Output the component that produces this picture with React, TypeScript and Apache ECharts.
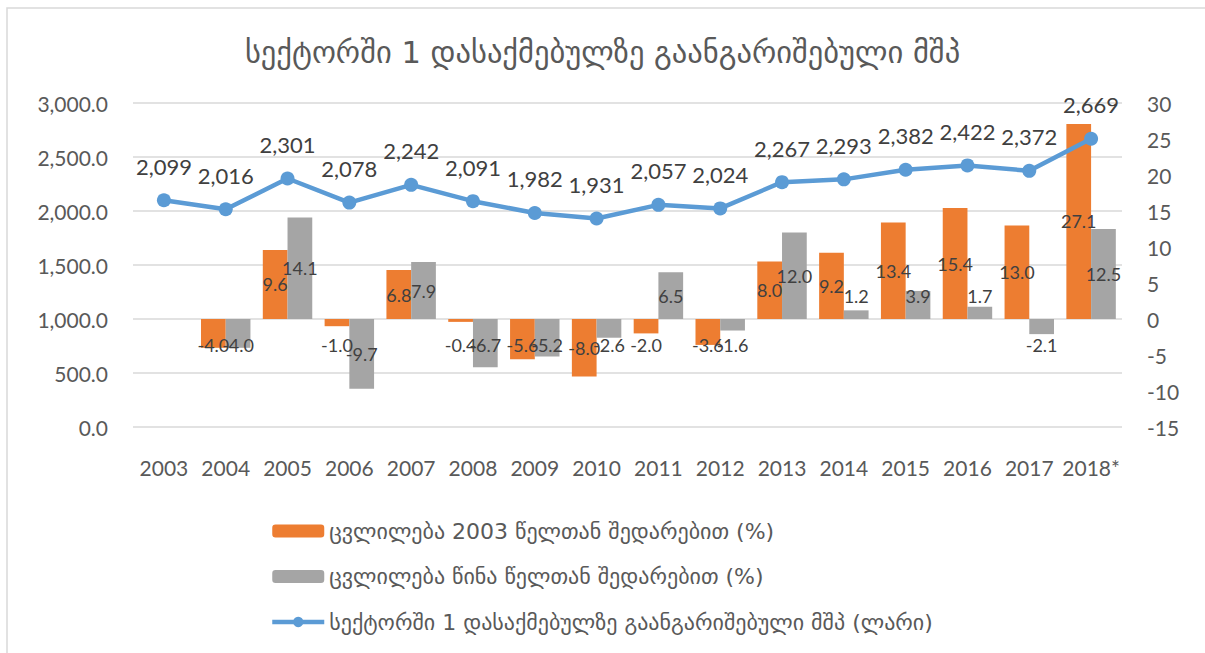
import React, { useEffect, useRef } from 'react';
import * as echarts from 'echarts';

const years = ['2003', '2004', '2005', '2006', '2007', '2008', '2009', '2010', '2011', '2012', '2013', '2014', '2015', '2016', '2017', '2018*'];
const gdpPerEmployed = [2099, 2016, 2301, 2078, 2242, 2091, 1982, 1931, 2057, 2024, 2267, 2293, 2382, 2422, 2372, 2669];
const changeVs2003: (number | null)[] = [null, -4.0, 9.6, -1.0, 6.8, -0.4, -5.6, -8.0, -2.0, -3.6, 8.0, 9.2, 13.4, 15.4, 13.0, 27.1];
const changeVsPrev: (number | null)[] = [null, -4.0, 14.1, -9.7, 7.9, -6.7, -5.2, -2.6, 6.5, -1.6, 12.0, 1.2, 3.9, 1.7, -2.1, 12.5];

const titleText = 'სექტორში 1 დასაქმებულზე გაანგარიშებული მშპ';
const nameVs2003 = 'ცვლილება 2003 წელთან შედარებით (%)';
const nameVsPrev = 'ცვლილება წინა წელთან შედარებით (%)';
const nameGdp = 'სექტორში 1 დასაქმებულზე გაანგარიშებული მშპ (ლარი)';

const FONT = "Lato, 'DejaVu Sans', sans-serif";
const GEO_FONT = "'DejaVu Sans', sans-serif";

function barData(vals: (number | null)[]) {
  return vals.map((v) => {
    if (v == null) return '-';
    const small = v >= 0 ? v < 6.4 : v > -7.5;
    const label = small
      ? { position: v >= 0 ? 'insideBottom' : 'insideTop', distance: v >= 0 ? 14 : 17 }
      : { position: 'inside' };
    return { value: v, label };
  });
}

export default function App() {
  const ref = useRef<HTMLDivElement>(null);
  useEffect(() => {
    if (!ref.current) return;
    const chart = echarts.init(ref.current, null, { renderer: 'svg' });
    const barLabel = {
      show: true,
      color: '#404040',
      fontSize: 18,
      fontFamily: FONT,
      formatter: (p: any) => Number(p.value).toFixed(1),
    };
    chart.setOption({
      animation: false,
      backgroundColor: '#ffffff',
      title: {
        text: titleText,
        left: 'center',
        top: 32,
        textStyle: { fontFamily: GEO_FONT, fontSize: 30.5, fontWeight: 'normal', color: '#595959' },
      },
      graphic: [
        {
          type: 'rect',
          shape: { x: 7, y: 8, width: 1400, height: 800 },
          style: { fill: 'none', stroke: '#D9D9D9', lineWidth: 1.5 },
          silent: true,
        },
      ],
      legend: {
        orient: 'vertical',
        left: 265,
        top: 515,
        itemWidth: 52,
        itemHeight: 13,
        itemGap: 23.5,
        data: [
          { name: nameVs2003 },
          { name: nameVsPrev },
          { name: nameGdp, lineStyle: { width: 4.5, color: '#5B9BD5' } },
        ],
        textStyle: { fontFamily: GEO_FONT, fontSize: 22, color: '#595959', lineHeight: 22 },
      },
      grid: { left: 133, right: 83, top: 103, bottom: 226, containLabel: false },
      xAxis: {
        type: 'category',
        data: years,
        axisLine: { show: false },
        axisTick: { show: false },
        axisLabel: { color: '#595959', fontSize: 21, fontFamily: FONT, margin: 30, interval: 0 },
      },
      yAxis: [
        {
          type: 'value',
          min: 0,
          max: 3000,
          interval: 500,
          position: 'left',
          axisLine: { show: false },
          axisTick: { show: false },
          splitLine: { lineStyle: { color: '#D9D9D9', width: 1.5 } },
          axisLabel: {
            color: '#595959',
            fontSize: 21,
            fontFamily: FONT,
            margin: 25,
            formatter: (v: number) => v.toLocaleString('en-US', { minimumFractionDigits: 1, maximumFractionDigits: 1 }),
          },
        },
        {
          type: 'value',
          min: -15,
          max: 30,
          interval: 5,
          position: 'right',
          axisLine: { show: false },
          axisTick: { show: false },
          splitLine: { show: false },
          axisLabel: { color: '#595959', fontSize: 21, fontFamily: FONT, margin: 25 },
        },
      ],
      series: [
        {
          name: nameVs2003,
          type: 'bar',
          yAxisIndex: 1,
          data: barData(changeVs2003),
          itemStyle: { color: '#ED7D31' },
          barGap: '0%',
          barCategoryGap: '20%',
          label: barLabel,
          z: 2,
        },
        {
          name: nameVsPrev,
          type: 'bar',
          yAxisIndex: 1,
          data: barData(changeVsPrev),
          itemStyle: { color: '#A5A5A5' },
          barGap: '0%',
          barCategoryGap: '20%',
          label: barLabel,
          z: 2,
        },
        {
          name: nameGdp,
          type: 'line',
          yAxisIndex: 0,
          data: gdpPerEmployed,
          symbol: 'circle',
          symbolSize: 14,
          lineStyle: { color: '#5B9BD5', width: 4.5 },
          itemStyle: { color: '#5B9BD5' },
          label: {
            show: true,
            position: 'top',
            distance: 16,
            color: '#404040',
            fontSize: 22,
            fontFamily: FONT,
            formatter: (p: any) => Number(p.value).toLocaleString('en-US'),
          },
          z: 5,
        },
      ],
    });
    return () => chart.dispose();
  }, []);
  return <div ref={ref} style={{ position: 'fixed', left: 0, top: 0, width: 1205, height: 653 }} />;
}
